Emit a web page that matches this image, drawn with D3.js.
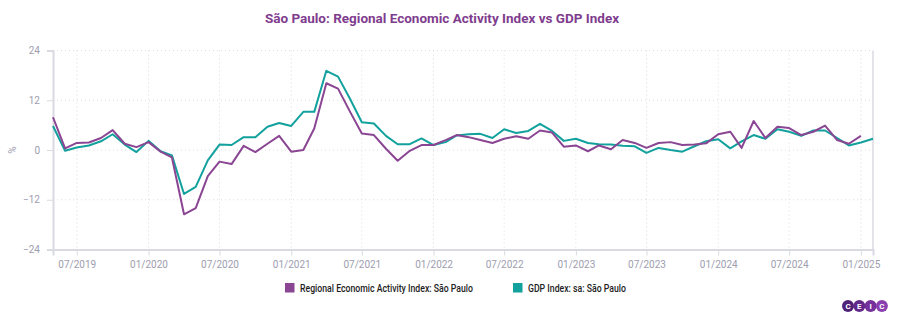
<!DOCTYPE html>
<html>
<head>
    <meta charset="utf-8">
    <title>São Paulo: Regional Economic Activity Index vs GDP Index</title>
    <script src="https://d3js.org/d3.v7.min.js"></script>
    <style>
        body { margin: 0; background: #fff; }
        svg { font-family: Roboto, "Noto Sans", sans-serif; }
    </style>
</head>
<body>
    <svg width="897" height="321"></svg>
    <script>
        // data: monthly, from 05/2019
        const startMonth = new Date(2019, 4, 1);
        const activity = [7.9, 0.4, 1.7, 1.8, 2.9, 4.8, 1.5, 0.7, 1.9, -0.4, -1.8, -15.5, -14.0, -6.3, -2.8, -3.4,
            1.0, -0.5, 1.5, 3.4, -0.4, 0.0, 5.2, 16.1, 14.8, 9.2, 4.0, 3.6, 0.3, -2.6, -0.2, 1.2, 1.2, 2.4, 3.6,
            3.1, 2.4, 1.7, 2.7, 3.3, 2.7, 4.7, 4.2, 0.8, 1.1, -0.3, 1.1, 0.2, 2.4, 1.7, 0.5, 1.7, 1.9, 1.2, 1.3,
            1.6, 3.8, 4.4, 0.5, 7.0, 2.9, 5.6, 5.3, 3.6, 4.4, 5.9, 2.4, 1.5, 3.4];
        const gdp = [5.8, -0.2, 0.6, 1.1, 2.1, 3.8, 1.3, -0.5, 2.2, -0.3, -1.3, -10.6, -8.9, -2.5, 1.3, 1.2,
            3.1, 3.1, 5.6, 6.5, 5.8, 9.2, 9.2, 19.1, 17.7, 12.3, 6.7, 6.4, 3.4, 1.4, 1.4, 2.8, 1.2, 1.9, 3.5,
            3.8, 3.9, 2.9, 5.0, 4.1, 4.6, 6.3, 4.6, 2.2, 2.7, 1.7, 1.4, 1.3, 1.0, 0.9, -0.7, 0.5, 0.0, -0.4, 0.9,
            2.1, 2.6, 0.4, 2.1, 3.6, 2.7, 5.0, 4.4, 3.4, 4.7, 4.7, 2.9, 1.1, 1.8, 2.7];
        const yTicks = [-24, -12, 0, 12, 24];
        const seriesNames = ["Regional Economic Activity Index: São Paulo", "GDP Index: sa: São Paulo"];
        const seriesColors = ["#8a4593", "#12a19d"];

        const monthAt = i => d3.timeMonth.offset(startMonth, i);

        const svg = d3.select("svg");
        const plotLeft = 53, plotRight = 873, plotTop = 50.5, plotBottom = 249.5;

        const x = d3.scaleTime()
            .domain([startMonth, monthAt(gdp.length - 1)])
            .range([plotLeft, plotRight]);
        const y = d3.scaleLinear().domain([-24, 24]).range([plotBottom, plotTop]);

        const xTicks = d3.timeMonth.every(6).range(new Date(2019, 6, 1), new Date(2025, 1, 2));

        // title
        svg.append("text")
            .attr("x", 442).attr("y", 23)
            .attr("text-anchor", "middle")
            .attr("font-size", 13.5).attr("font-weight", "bold")
            .attr("fill", "#7f3d8e")
            .text("São Paulo: Regional Economic Activity Index vs GDP Index");

        // grid
        svg.append("g").selectAll("line")
            .data(yTicks)
            .join("line")
            .attr("x1", plotLeft).attr("x2", plotRight)
            .attr("y1", d => y(d)).attr("y2", d => y(d))
            .attr("stroke", "#dcdce2").attr("stroke-dasharray", "1,3");
        svg.append("g").selectAll("line")
            .data(xTicks)
            .join("line")
            .attr("x1", d => x(d)).attr("x2", d => x(d))
            .attr("y1", plotTop).attr("y2", plotBottom)
            .attr("stroke", "#dcdce2").attr("stroke-dasharray", "1,3");

        // axes
        const yAxis = svg.append("g")
            .attr("transform", `translate(${plotLeft},0)`)
            .call(d3.axisLeft(y).tickValues(yTicks).tickSize(6).tickPadding(7));
        const xAxis = svg.append("g")
            .attr("transform", `translate(0,${plotBottom})`)
            .call(d3.axisBottom(x).tickValues(xTicks).tickFormat(d3.timeFormat("%m/%Y")).tickSize(6).tickPadding(5));
        [yAxis, xAxis].forEach(g => {
            g.select(".domain").attr("stroke", "#dadae2").attr("stroke-width", 2);
            g.selectAll(".tick line").attr("stroke", "#dadae2");
            g.selectAll(".tick text").attr("fill", "#9d9daf").attr("font-size", 10)
                .attr("font-family", "Roboto, sans-serif");
        });
        svg.append("line")
            .attr("x1", plotRight).attr("x2", plotRight).attr("y1", plotTop).attr("y2", plotBottom)
            .attr("stroke", "#dadae2").attr("stroke-width", 1.5);

        svg.append("text")
            .attr("transform", `translate(16,150) rotate(-90)`)
            .attr("text-anchor", "middle")
            .attr("font-size", 10).attr("fill", "#9d9daf")
            .text("%");

        // lines, GDP first so the activity line sits on top
        const line = d3.line().x((d, i) => x(monthAt(i))).y(d => y(d));
        [gdp, activity].forEach((s, j) => {
            svg.append("path")
                .datum(s)
                .attr("fill", "none")
                .attr("stroke", seriesColors[1 - j])
                .attr("stroke-width", 2)
                .attr("stroke-linejoin", "round")
                .attr("d", line);
        });

        // legend
        const legendX = [285, 513], legendW = [173, 98];
        seriesNames.forEach((name, k) => {
            svg.append("rect")
                .attr("x", legendX[k]).attr("y", 283)
                .attr("width", 9.5).attr("height", 9.5)
                .attr("fill", seriesColors[k]);
            svg.append("text")
                .attr("x", legendX[k] + 15).attr("y", 291.5)
                .attr("font-size", 10).attr("font-weight", 500)
                .attr("fill", "#222")
                .attr("textLength", legendW[k]).attr("lengthAdjust", "spacingAndGlyphs")
                .text(name);
        });

        // CEIC mark
        const logoLetters = ["C", "E", "I", "C"];
        const logoColors = ["#4f2277", "#62288a", "#74319b", "#8a3fae"];
        const logo = svg.append("g").attr("transform", "translate(848,306)");
        logoLetters.forEach((l, i) => {
            logo.append("circle").attr("cx", i * 11.3).attr("cy", 0).attr("r", 6).attr("fill", logoColors[i]);
        });
        logoLetters.forEach((l, i) => {
            logo.append("text").attr("x", i * 11.3).attr("y", 3)
                .attr("text-anchor", "middle").attr("font-size", 8).attr("font-weight", "bold")
                .attr("fill", "#fff").text(l);
        });
    </script>
</body>
</html>
